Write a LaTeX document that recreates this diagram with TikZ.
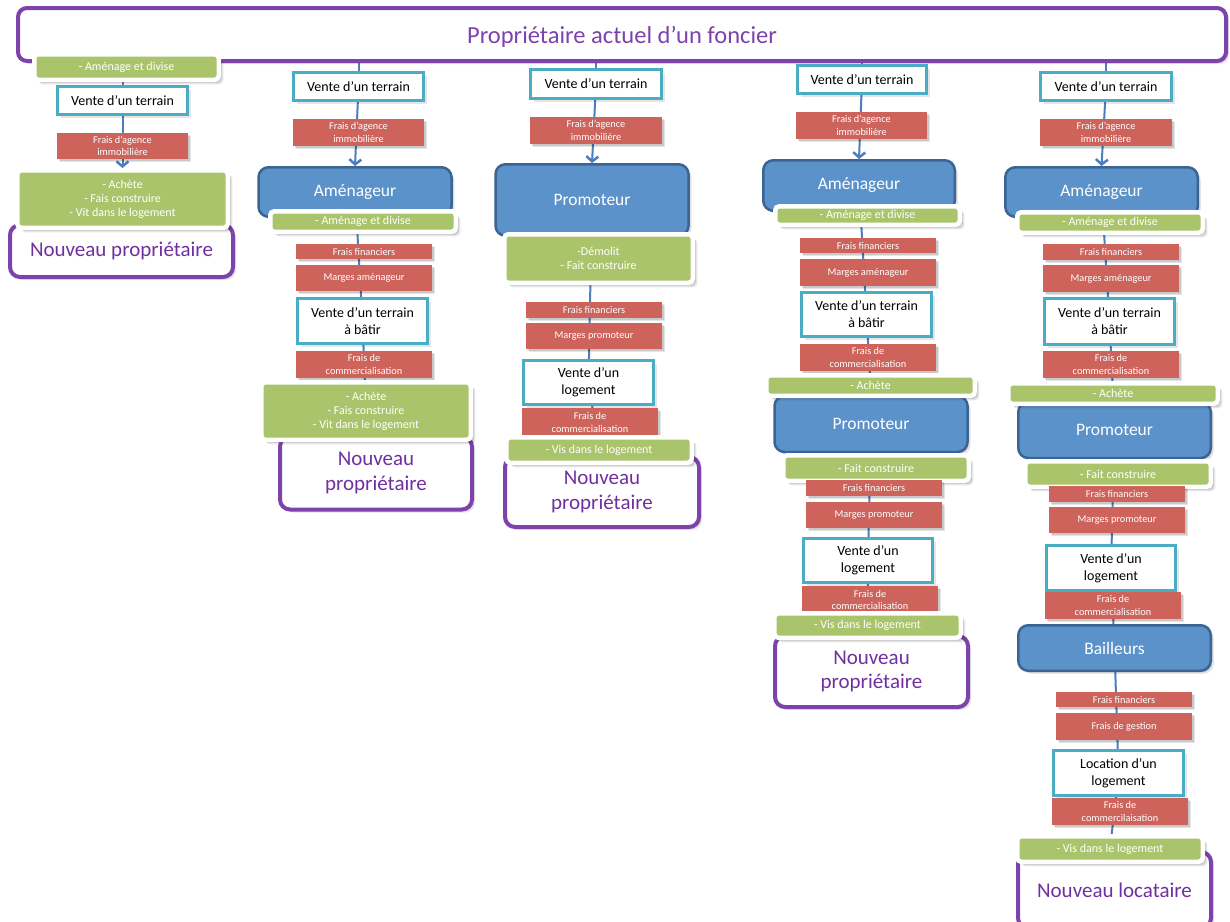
\documentclass[tikz,border=0pt]{standalone}
\usepackage{fontspec}
\setmainfont{Carlito}
\usetikzlibrary{arrows.meta, shadows, backgrounds}
\definecolor{violetcadre}{RGB}{125,66,172}
\definecolor{violettexte}{RGB}{112,48,160}
\definecolor{bleuacteur}{RGB}{91,146,201}
\definecolor{bleubord}{RGB}{58,100,148}
\definecolor{cyanvente}{RGB}{75,172,198}
\definecolor{rougefrais}{RGB}{205,99,91}
\definecolor{vertaction}{RGB}{169,196,106}
\definecolor{bleutrait}{RGB}{74,126,189}

\tikzset{
  ombre/.style={drop shadow={shadow xshift=1.5pt, shadow yshift=-1.5pt, fill=black, opacity=.12},
                drop shadow={shadow xshift=3pt, shadow yshift=-3pt, fill=black, opacity=.1}},
  ombreblanche/.style={drop shadow={shadow xshift=3pt, shadow yshift=-3pt, fill=black, opacity=.12},
                drop shadow={shadow xshift=4.5pt, shadow yshift=-4.5pt, fill=black, opacity=.1}},
  titleBox/.style={draw=violetcadre, line width=4pt, rounded corners=9pt, fill=white, text=violetcadre, inner sep=0pt, text depth=0pt, font=\fontsize{24.5}{28}\selectfont, ombre},
  venteBox/.style={draw=cyanvente, line width=3pt, fill=white, text=black, align=center, inner sep=0pt, minimum width=130pt, font=\fontsize{14}{17}\selectfont, ombre},
  fraisBox/.style={fill=rougefrais, text=white, align=center, inner sep=0pt, minimum width=136pt, font=\fontsize{10.3}{12.5}\selectfont, ombre},
  actionBox/.style={fill=vertaction, draw=white, line width=4.5pt, rounded corners=4pt, text=white, align=center, inner sep=0pt, font=\fontsize{12}{14}\selectfont, ombreblanche},
  acteurBox/.style={fill=bleuacteur, draw=bleubord, line width=2.5pt, rounded corners=10pt, text=white, inner sep=0pt, minimum width=193pt, font=\fontsize{17.5}{21}\selectfont, ombre},
  finalBox/.style={fill=white, draw=violetcadre, line width=4pt, rounded corners=10pt, text=violettexte, align=center, inner sep=0pt, font=\fontsize{21}{24.5}\selectfont, ombre},
  lien/.style={draw=bleutrait, line width=2pt},
  fleche/.style={lien, -{Straight Barb[length=5pt, width=12pt, line width=2.5pt]}}
}

\begin{document}
\begin{tikzpicture}[x=1pt, y=-1pt]
\useasboundingbox (0,0) rectangle (1230,921);

% proprietaire actuel
\node[titleBox, minimum width=1208pt, minimum height=53pt] (titre) at (622,34.5) {Propriétaire actuel d’un foncier};

% colonne 1 : division directe
\node[actionBox, minimum width=184.5pt, minimum height=25.5pt] (g1a) at (126.5,67) {- Aménage et divise};
\node[venteBox, minimum height=28pt] (v1) at (122.5,100.5) {Vente d’un terrain};
\node[fraisBox, minimum width=131pt, minimum height=26pt] (r1) at (122.5,146) {Frais d’agence\\immobilière};
\node[finalBox, minimum width=223pt, minimum height=52pt] (p1) at (121.5,251) {Nouveau propriétaire};
\node[actionBox, minimum width=210.5pt, minimum height=57.5pt] (g1b) at (122.5,199) {- Achète\\- Fais construire\\- Vit dans le logement};

% colonne 2 : amenageur
\node[venteBox, minimum height=28pt] (v2) at (358.5,86.5) {Vente d’un terrain};
\node[fraisBox, minimum width=131pt, minimum height=27pt] (r2a) at (358.5,132.5) {Frais d’agence\\immobilière};
\node[acteurBox, minimum height=49.5pt] (a2) at (355,192) {Aménageur};
\node[actionBox, minimum width=185.5pt, minimum height=20.5pt] (g2a) at (363,221.5) {- Aménage et divise};
\node[fraisBox, minimum height=15pt] (r2b) at (364,251.5) {Frais financiers};
\node[fraisBox, minimum height=26pt] (r2c) at (364,278) {Marges aménageur};
\node[venteBox, minimum height=45pt] (vb2) at (362.5,321) {Vente d’un terrain\\à bâtir};
\node[fraisBox, minimum height=27pt] (r2d) at (364,364.5) {Frais de\\commercialisation};
\node[finalBox, minimum width=192pt, minimum height=73pt] (p2) at (376,473) {Nouveau\\propriétaire};
\node[actionBox, minimum width=209.5pt, minimum height=57.5pt] (g2b) at (366,411) {- Achète\\- Fais construire\\- Vit dans le logement};

% colonne 3 : promoteur
\node[venteBox, minimum width=131pt, minimum height=29pt] (v3) at (596,84) {Vente d’un terrain};
\node[fraisBox, minimum width=132pt, minimum height=27pt] (r3a) at (596,130.5) {Frais d’agence\\immobilière};
\node[acteurBox, minimum height=71.5pt] (pr3) at (592,200) {Promoteur};
\node[actionBox, minimum width=188.5pt, minimum height=48.5pt] (g3a) at (598.5,258.5) {-Démolit\\- Fait construire};
\node[fraisBox, minimum height=16pt] (r3b) at (594,310) {Frais financiers};
\node[fraisBox, minimum height=26pt] (r3c) at (594,336) {Marges promoteur};
\node[venteBox, minimum height=44pt] (vl3) at (588.5,382.5) {Vente d’un\\logement};
\node[fraisBox, minimum height=29pt] (r3d) at (590,422.5) {Frais de\\commercialisation};
\node[finalBox, minimum width=194pt, minimum height=70pt] (p3) at (602,492) {Nouveau\\propriétaire};
\node[actionBox, minimum width=185.5pt, minimum height=25.5pt] (g3b) at (599,450) {- Vis dans le logement};

% colonne 4 : amenageur puis promoteur
\node[venteBox, minimum width=129pt, minimum height=28pt] (v4) at (862,79.5) {Vente d’un terrain};
\node[fraisBox, minimum width=131pt, minimum height=27pt] (r4a) at (861.5,125.5) {Frais d’agence\\immobilière};
\node[acteurBox, minimum width=191.5pt, minimum height=50.5pt] (a4) at (859,185.5) {Aménageur};
\node[actionBox, minimum width=184.5pt, minimum height=18.5pt] (g4a) at (867.5,215.5) {- Aménage et divise};
\node[fraisBox, minimum height=15pt] (r4b) at (868,245.5) {Frais financiers};
\node[fraisBox, minimum height=27pt] (r4c) at (868,272.5) {Marges aménageur};
\node[venteBox, minimum height=44pt] (vb4) at (866.5,314.5) {Vente d’un terrain\\à bâtir};
\node[fraisBox, minimum height=27pt] (r4d) at (868,357.5) {Frais de\\commercialisation};
\node[acteurBox, minimum height=56pt] (pr4) at (871,424) {Promoteur};
\node[actionBox, minimum width=208.5pt, minimum height=20.5pt] (g4b) at (870.5,385.5) {- Achète};
\node[actionBox, minimum width=185.5pt, minimum height=25.5pt] (g4c) at (876,468) {- Fait construire};
\node[fraisBox, minimum height=16pt] (r4e) at (874,488) {Frais financiers};
\node[fraisBox, minimum height=26pt] (r4f) at (874,515) {Marges promoteur};
\node[venteBox, minimum width=129pt, minimum height=44pt] (vl4) at (868,560.5) {Vente d’un\\logement};
\node[fraisBox, minimum height=28pt] (r4g) at (870,600) {Frais de\\commercialisation};
\node[finalBox, minimum width=193pt, minimum height=71pt] (p4) at (871.5,671.5) {Nouveau\\propriétaire};
\node[actionBox, minimum width=186.5pt, minimum height=24.5pt] (g4d) at (867.5,625.5) {- Vis dans le logement};

% colonne 5 : amenageur, promoteur puis bailleurs
\node[venteBox, minimum width=131pt, minimum height=28pt] (v5) at (1106,86.5) {Vente d’un terrain};
\node[fraisBox, minimum width=132pt, minimum height=27pt] (r5a) at (1106,132.5) {Frais d’agence\\immobilière};
\node[acteurBox, minimum width=192.5pt, minimum height=49.5pt] (a5) at (1101.5,192) {Aménageur};
\node[actionBox, minimum width=185.5pt, minimum height=20.5pt] (g5a) at (1110,222.5) {- Aménage et divise};
\node[fraisBox, minimum height=16pt] (r5b) at (1111,252) {Frais financiers};
\node[fraisBox, minimum height=27pt] (r5c) at (1111,278.5) {Marges aménageur};
\node[venteBox, minimum height=46pt] (vb5) at (1109.5,321.5) {Vente d’un terrain\\à bâtir};
\node[fraisBox, minimum height=27pt] (r5d) at (1111,364.5) {Frais de\\commercialisation};
\node[acteurBox, minimum width=192.5pt, minimum height=56pt] (pr5) at (1114.5,430) {Promoteur};
\node[actionBox, minimum width=209.5pt, minimum height=20.5pt] (g5b) at (1113,393.5) {- Achète};
\node[actionBox, minimum width=185.5pt, minimum height=25.5pt] (g5c) at (1118,474) {- Fait construire};
\node[fraisBox, minimum height=16pt] (r5e) at (1117,494) {Frais financiers};
\node[fraisBox, minimum height=26pt] (r5f) at (1117,520) {Marges promoteur};
\node[venteBox, minimum width=129pt, minimum height=45pt] (vl5) at (1111,568) {Vente d’un\\logement};
\node[fraisBox, minimum height=27pt] (r5g) at (1113,605.5) {Frais de\\commercialisation};
\node[acteurBox, minimum width=192.5pt, minimum height=45.5pt] (bl5) at (1114.5,648) {Bailleurs};
\node[fraisBox, minimum height=15pt] (r5h) at (1124,699.5) {Frais financiers};
\node[fraisBox, minimum height=27pt] (r5i) at (1124,726.5) {Frais de gestion};
\node[venteBox, minimum height=45pt] (lo5) at (1118.5,773) {Location d’un\\logement};
\node[fraisBox, minimum height=27pt] (r5j) at (1120,811.5) {Frais de\\commercilaisation};
\node[finalBox, minimum width=193pt, minimum height=76pt] (p5) at (1114.5,890) {Nouveau locataire};
\node[actionBox, minimum width=185.5pt, minimum height=25.5pt] (g5d) at (1110,849) {- Vis dans le logement};

% liens
\begin{pgfonlayer}{background}
  \draw[lien] (v1) -- (v1 |- g1a);
  \draw[fleche] (v1) -- (v1 |- g1b.north);
  \foreach \v/\a in {v2/a2, v3/pr3, v4/a4, v5/a5} {
    \draw[lien] (\v) -- (\v |- titre);
    \draw[fleche] (\v) -- (\a.north);
  }
  \draw[lien] (a2) -- (vb2) -- (g2b);
  \draw[lien] (pr3) -- (vl3) -- (g3b);
  \draw[lien] (a4) -- (vb4) -- (g4b);
  \draw[lien] (pr4) -- (vl4) -- (g4d);
  \draw[lien] (a5) -- (vb5) -- (g5b);
  \draw[lien] (pr5) -- (vl5) -- (bl5) -- (lo5) -- (g5d);
\end{pgfonlayer}
\end{tikzpicture}
\end{document}
